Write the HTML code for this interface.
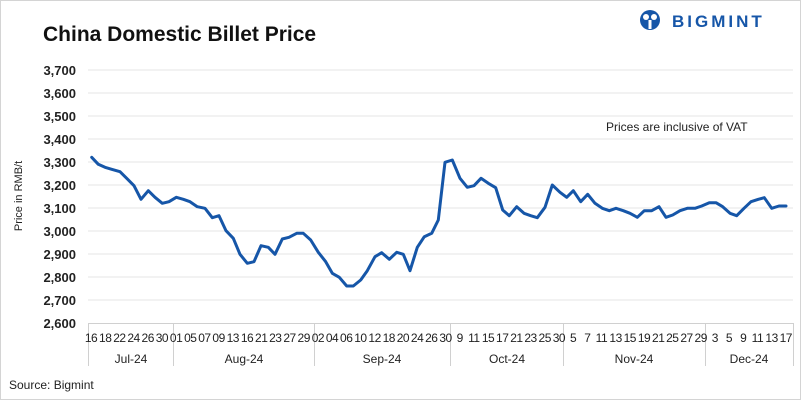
<!DOCTYPE html>
<html><head><meta charset="utf-8"><style>
body{margin:0;background:#fff;}
svg{display:block;font-family:"Liberation Sans",sans-serif;}
</style></head><body>
<svg width="801" height="401" viewBox="0 0 801 401">
<rect x="0.5" y="0.5" width="800" height="399" fill="#fff" stroke="#d4d4d4"/>
<text x="43" y="41" font-size="21" font-weight="bold" fill="#111">China Domestic Billet Price</text>
<g transform="translate(638,8)">
<circle cx="12" cy="12" r="10" fill="#1656a8"/>
<circle cx="8" cy="9" r="3" fill="#fff"/><circle cx="16" cy="9" r="3" fill="#fff"/>
<rect x="10.5" y="12" width="3" height="9" fill="#fff"/>
</g>
<text x="672" y="27" font-size="17" font-weight="bold" fill="#1656a8" letter-spacing="3">BIGMINT</text>
<g stroke="#e6e6e6" stroke-width="1">
<line x1="88" x2="793" y1="70" y2="70"/><line x1="88" x2="793" y1="93" y2="93"/><line x1="88" x2="793" y1="116" y2="116"/><line x1="88" x2="793" y1="139" y2="139"/><line x1="88" x2="793" y1="162" y2="162"/><line x1="88" x2="793" y1="185" y2="185"/><line x1="88" x2="793" y1="208" y2="208"/><line x1="88" x2="793" y1="231" y2="231"/><line x1="88" x2="793" y1="254" y2="254"/><line x1="88" x2="793" y1="277" y2="277"/><line x1="88" x2="793" y1="300" y2="300"/>
</g>
<g stroke="#d0d0d0" stroke-width="1">
<line x1="88" x2="793" y1="323.5" y2="323.5"/>
<line x1="88.5" x2="88.5" y1="323" y2="366"/><line x1="173.5" x2="173.5" y1="323" y2="366"/><line x1="314.5" x2="314.5" y1="323" y2="366"/><line x1="450.5" x2="450.5" y1="323" y2="366"/><line x1="563.5" x2="563.5" y1="323" y2="366"/><line x1="705.5" x2="705.5" y1="323" y2="366"/><line x1="793.5" x2="793.5" y1="323" y2="366"/>
</g>
<g font-size="13" font-weight="bold" fill="#222" text-anchor="end">
<text x="76" y="75">3,700</text><text x="76" y="98">3,600</text><text x="76" y="121">3,500</text><text x="76" y="144">3,400</text><text x="76" y="167">3,300</text><text x="76" y="190">3,200</text><text x="76" y="213">3,100</text><text x="76" y="236">3,000</text><text x="76" y="259">2,900</text><text x="76" y="282">2,800</text><text x="76" y="305">2,700</text><text x="76" y="328">2,600</text>
</g>
<text transform="translate(22,196) rotate(-90)" font-size="11" fill="#222" text-anchor="middle">Price in RMB/t</text>
<text x="606" y="131" font-size="12" fill="#222">Prices are inclusive of VAT</text>
<polyline fill="none" stroke="#1656a8" stroke-width="3" stroke-linejoin="round" stroke-linecap="round" points="91.7,157.3 98.3,164.3 105,167.3 111.7,169.3 120,171.7 126.7,178.3 134,185.7 141,199.3 148.3,190.7 155,197.3 162.3,203.3 169,201.7 176.3,197.3 183.3,199.3 190,201.7 197.3,206.7 205,208.3 212.3,217.7 219,215.7 226,230.7 233.3,238.3 240,254.3 247.3,263.3 254,261.7 261,245.7 268.3,247.3 275,254.3 282.3,239 289,237.3 296.7,233.3 303.3,233.3 310.7,240 318.3,252.3 325.7,261.7 332.3,273.3 339.3,277.3 346.7,286 353.3,286 360.7,280 367.3,270.7 375,256.7 381.7,252.7 389.3,259.3 396.7,252.3 403.3,254.3 410,270.7 417.3,247.3 424.3,236.7 431.7,233.3 438.3,220 445,162.3 452.3,160 460,178.3 467.3,187.3 474,185.7 481,178.3 488.3,183.3 495.7,187.7 502.7,210 509.3,215.7 516.7,206.7 524,213.3 530.7,215.7 537.3,217.7 545,207.3 552.3,185 560,192.3 566.7,197.3 573.3,190.7 580.7,201.7 587.7,194.3 595,203.3 602.3,208.3 609.3,210.7 616,208.3 623.3,210.7 630,213.3 637.3,217.3 644.3,210.7 651.7,210.7 659,206.7 666,217.3 672.7,215 680,210.7 687.3,208.3 695,208.3 701.7,206 709.3,202.7 716,202.7 722.7,206.7 730,213.3 736.7,215.7 744,208.3 751,201.7 758.3,199.3 764.3,197.7 771.7,208.3 779,206 786,206"/>
<g font-size="12" fill="#222" text-anchor="middle" letter-spacing="-0.5">
<text x="91" y="342">16</text><text x="105.2" y="342">18</text><text x="119.4" y="342">22</text><text x="133.5" y="342">24</text><text x="147.7" y="342">26</text><text x="161.9" y="342">30</text>
<text x="176.1" y="342">01</text><text x="190.3" y="342">05</text><text x="204.4" y="342">07</text><text x="218.6" y="342">09</text><text x="232.8" y="342">13</text><text x="247" y="342">16</text><text x="261.2" y="342">21</text><text x="275.3" y="342">23</text><text x="289.5" y="342">27</text><text x="303.7" y="342">29</text>
<text x="317.9" y="342">02</text><text x="332" y="342">04</text><text x="346.2" y="342">06</text><text x="360.4" y="342">10</text><text x="374.6" y="342">12</text><text x="388.8" y="342">18</text><text x="402.9" y="342">20</text><text x="417.1" y="342">24</text><text x="431.3" y="342">26</text><text x="445.5" y="342">30</text>
<text x="459.7" y="342">9</text><text x="473.8" y="342">11</text><text x="488" y="342">15</text><text x="502.2" y="342">17</text><text x="516.4" y="342">21</text><text x="530.5" y="342">23</text><text x="544.7" y="342">25</text><text x="558.9" y="342">30</text>
<text x="573.1" y="342">5</text><text x="587.3" y="342">7</text><text x="601.4" y="342">11</text><text x="615.6" y="342">13</text><text x="629.8" y="342">15</text><text x="644" y="342">19</text><text x="658.2" y="342">21</text><text x="672.3" y="342">25</text><text x="686.5" y="342">27</text><text x="700.7" y="342">29</text>
<text x="714.9" y="342">3</text><text x="729" y="342">5</text><text x="743.2" y="342">9</text><text x="757.4" y="342">11</text><text x="771.6" y="342">13</text><text x="785.8" y="342">17</text>
</g>
<g font-size="12" fill="#222" text-anchor="middle">
<text x="131" y="363">Jul-24</text><text x="244" y="363">Aug-24</text><text x="382" y="363">Sep-24</text><text x="507" y="363">Oct-24</text><text x="634" y="363">Nov-24</text><text x="749" y="363">Dec-24</text>
</g>
<text x="9" y="389" font-size="12" fill="#222">Source: Bigmint</text>
</svg>
</body></html>
